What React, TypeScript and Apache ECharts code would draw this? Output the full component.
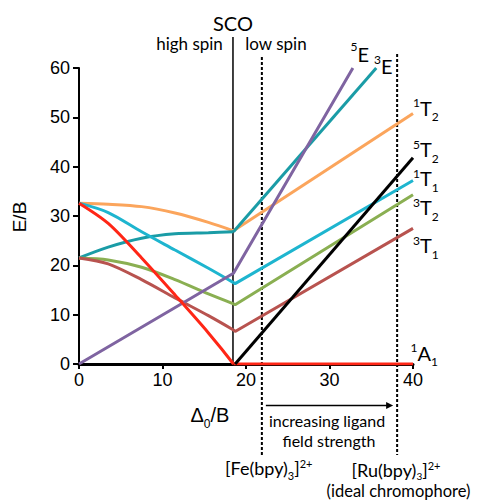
import React, { useEffect, useRef } from 'react';
import * as echarts from 'echarts';

// ---- data ----
const xTicks = [0, 10, 20, 30, 40];
const yTicks = [0, 10, 20, 30, 40, 50, 60];

// high-spin side (curved)
const xLeft = [0, 3.5, 7.5, 11.5, 15.5, 18.5];
const orangeLeft = [32.6, 32.4, 31.9, 30.6, 28.7, 27.0];
const tealLeft = [21.5, 23.7, 25.5, 26.4, 26.6, 26.8];
const cyanLeft = [32.6, 30.7, 26.8, 23.1, 19.4, 16.5];
const greenLeft = [21.5, 21.1, 19.6, 17.1, 14.2, 12.2];
const brownLeft = [21.5, 20.3, 17.1, 13.4, 9.8, 6.9];
const redLeft = [32.6, 28.5, 21.5, 14.0, 6.3, 0];

// low-spin side (straight)
const orangeRight = [[18.5, 27.0], [40, 50.8]];
const tealRight = [[18.5, 26.8], [35.6, 60]];
const cyanRight = [[18.5, 16.5], [18.7, 16.3], [40, 37.2]];
const greenRight = [[18.5, 12.2], [18.7, 12.0], [40, 34.3]];
const brownRight = [[18.5, 6.9], [18.7, 6.6], [40, 27.5]];
const redRight = [[18.5, 0], [40, 0]];
const purplePts = [[0, 0], [18.5, 18.4], [32.8, 60]];
const blackPts = [[18.7, 0], [40, 41.8]];

// vertical markers (Δ0/B)
const scoX = 18.44;
const feX = 21.9;
const ruX = 38.1;

const COL = {
  orange: '#FBA55C',
  teal: '#1A9CA6',
  cyan: '#1EB5CF',
  green: '#8AAF52',
  brown: '#B8534F',
  red: '#FF2616',
  purple: '#7F64A1',
  black: '#000000',
};

const ANN = 'Lato, "Open Sans", sans-serif';
const AX = '"Liberation Sans", Arial, sans-serif';

const zip = (xs: number[], ys: number[]) => xs.map((x, i) => [x, ys[i]]);

let mctx: CanvasRenderingContext2D | null = null;
function tw(text: string, size: number, family: string) {
  if (!mctx) mctx = document.createElement('canvas').getContext('2d');
  if (!mctx) return text.length * size * 0.55;
  mctx.font = `${size}px ${family}`;
  return mctx.measureText(text).width;
}

type Part = { t: string; size: number; dy: number };
function parts(x: number, y: number, ps: Part[], family: string, center = false) {
  const widths = ps.map((p) => tw(p.t, p.size, family));
  const total = widths.reduce((a, b) => a + b, 0);
  let cx = center ? x - total / 2 : x;
  return ps.map((p, i) => {
    const el = {
      type: 'text',
      x: cx,
      y: y + p.dy,
      silent: true,
      style: {
        text: p.t,
        fontSize: p.size,
        fontFamily: family,
        fill: '#000',
        align: 'left',
        verticalAlign: 'middle',
        textAlign: 'left',
        textVerticalAlign: 'middle',
      },
    };
    cx += widths[i];
    return el;
  });
}

function txt(x: number, y: number, t: string, size: number, family: string, extra: any = {}) {
  return {
    type: 'text',
    x,
    y,
    silent: true,
    ...extra,
    style: {
      text: t,
      fontSize: size,
      fontFamily: family,
      fill: '#000',
      align: 'center',
      verticalAlign: 'middle',
      textAlign: 'center',
      textVerticalAlign: 'middle',
    },
  };
}

function stateLabel(x: number, y: number, sup: string, main: string, sub: string) {
  const ps: Part[] = [
    { t: sup, size: 12, dy: -5 },
    { t: main, size: 20, dy: 0 },
  ];
  if (sub) ps.push({ t: sub, size: 12, dy: 9 });
  return parts(x, y, ps, ANN);
}

function line(color: string, data: number[][], smooth: number | boolean = false) {
  return {
    type: 'line',
    data,
    smooth,
    symbol: 'none',
    silent: true,
    lineStyle: { color, width: 3 },
    itemStyle: { color },
  };
}

export default function App() {
  const ref = useRef<HTMLDivElement>(null);
  useEffect(() => {
    if (!ref.current) return;
    const chart = echarts.init(ref.current, undefined, { renderer: 'svg' });
    const option: any = {
      animation: false,
      backgroundColor: '#fff',
      grid: { left: 79, right: 66, top: 68, bottom: 137 },
      xAxis: {
        type: 'value',
        min: xTicks[0],
        max: xTicks[xTicks.length - 1],
        interval: 10,
        axisLine: { show: true, onZero: false, lineStyle: { color: '#000', width: 3 } },
        axisTick: { show: true, length: 5, lineStyle: { color: '#000', width: 2 } },
        axisLabel: { fontSize: 18, color: '#000', fontFamily: AX, margin: 7 },
        splitLine: { show: false },
      },
      yAxis: {
        type: 'value',
        min: yTicks[0],
        max: yTicks[yTicks.length - 1],
        interval: 10,
        axisLine: { show: true, lineStyle: { color: '#000', width: 2 } },
        axisTick: { show: true, length: 6, lineStyle: { color: '#000', width: 2 } },
        axisLabel: { fontSize: 18, color: '#000', fontFamily: AX, margin: 9 },
        splitLine: { show: false },
      },
      series: [
        line(COL.orange, zip(xLeft, orangeLeft), 0.3),
        line(COL.orange, orangeRight),
        line(COL.teal, zip(xLeft, tealLeft), 0.3),
        line(COL.teal, tealRight),
        line(COL.cyan, zip(xLeft, cyanLeft), 0.3),
        line(COL.cyan, cyanRight),
        line(COL.green, zip(xLeft, greenLeft), 0.3),
        line(COL.green, greenRight),
        line(COL.brown, zip(xLeft, brownLeft), 0.3),
        line(COL.brown, brownRight),
        line(COL.purple, purplePts),
        line(COL.red, zip(xLeft, redLeft), 0.3),
        line(COL.red, redRight),
        line(COL.black, blackPts),
      ],
    };
    chart.setOption(option);

    const px = (x: number, y: number) => chart.convertToPixel({ gridIndex: 0 }, [x, y]) as number[];
    const sco = px(scoX, 0);
    const fe = px(feX, 0);
    const ru = px(ruX, 0);
    const ax0 = px(0, 0);

    const dashed = { stroke: '#000', lineWidth: 2, lineDash: [3, 2] };
    const arrowY = 405.5;
    const aStart = fe[0] + 4;
    const aEnd = ru[0] - 4;

    const elements: any[] = [
      { type: 'line', silent: true, shape: { x1: sco[0], y1: 37, x2: sco[0], y2: ax0[1] }, style: { stroke: '#000', lineWidth: 1.5 } },
      { type: 'line', silent: true, shape: { x1: fe[0], y1: 57, x2: fe[0], y2: 455 }, style: dashed },
      { type: 'line', silent: true, shape: { x1: ru[0], y1: 54, x2: ru[0], y2: 455 }, style: dashed },
      { type: 'line', silent: true, shape: { x1: aStart, y1: arrowY, x2: aEnd - 4, y2: arrowY }, style: { stroke: '#000', lineWidth: 1.5 } },
      { type: 'polygon', silent: true, shape: { points: [[aEnd - 7, arrowY - 3.5], [aEnd, arrowY], [aEnd - 7, arrowY + 3.5]] }, style: { fill: '#000' } },

      txt(sco[0], 22.5, 'SCO', 20, ANN),
      txt(189.5, 43.5, 'high spin', 17, ANN),
      txt(276, 43.5, 'low spin', 17, ANN),

      txt(19.5, 217, 'E/B', 19, AX, { rotation: Math.PI / 2 }),
      ...parts(190.5, 415, [
        { t: 'Δ', size: 20, dy: 0 },
        { t: '0', size: 12, dy: 9 },
        { t: '/B', size: 20, dy: 0 },
      ], AX),

      ...parts(350.5, 53.7, [{ t: '5', size: 12, dy: -7 }, { t: 'E', size: 20, dy: 0 }], ANN),
      ...parts(374, 66, [{ t: '3', size: 12, dy: -7 }, { t: 'E', size: 20, dy: 0 }], ANN),
      ...stateLabel(413, 107.5, '1', 'T', '2'),
      ...stateLabel(413, 149, '5', 'T', '2'),
      ...stateLabel(413, 178, '1', 'T', '1'),
      ...stateLabel(413, 207, '3', 'T', '2'),
      ...stateLabel(413, 245, '3', 'T', '1'),
      ...stateLabel(410.5, 352.5, '1', 'A', '1'),

      txt(327, 420, 'increasing ligand', 16, ANN),
      txt(329, 440, 'field strength', 16, ANN),

      ...parts(225, 467.5, [
        { t: '[Fe(bpy)', size: 18, dy: 0 },
        { t: '3', size: 11, dy: 8 },
        { t: ']', size: 18, dy: 0 },
        { t: '2+', size: 11, dy: -4 },
      ], ANN),
      ...parts(351.5, 469.5, [
        { t: '[Ru(bpy)', size: 18, dy: 0 },
        { t: '3', size: 10, dy: 6 },
        { t: ']', size: 18, dy: 0 },
        { t: '2+', size: 11, dy: -4 },
      ], ANN),
      txt(398.5, 490.5, '(ideal chromophore)', 16.5, ANN),
    ];

    chart.setOption({ graphic: { elements } });

    return () => chart.dispose();
  }, []);

  return (
    <div
      ref={ref}
      style={{ position: 'absolute', left: 0, top: 0, width: 479, height: 501, background: '#fff' }}
    />
  );
}
